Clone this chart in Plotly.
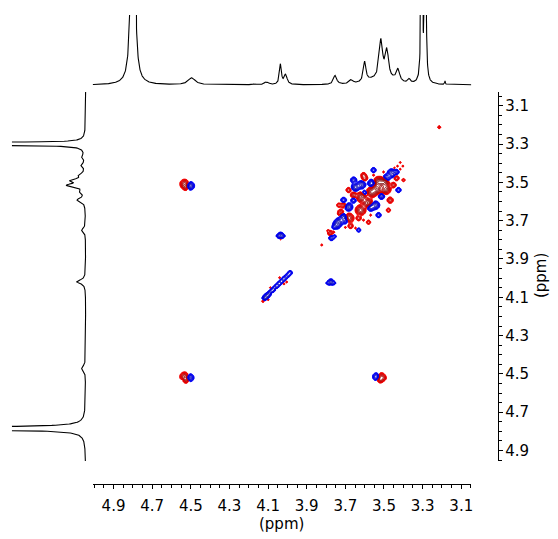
import numpy as np
import plotly.graph_objects as go

W, H = 558, 539

# ---------------- 1D projection along F2 (top) ----------------
# shift (ppm), height (px above baseline), half width (ppm)
top_shift = [4.800, 4.495, 4.170, 4.115, 4.100, 4.036, 4.009, 3.753, 3.670, 3.600,
             3.560, 3.516, 3.485, 3.440, 3.427, 3.370, 3.305, 3.286, 3.184]
top_height = [1330, 7, 1, 2, 2, 20, 10, 9, 4, 20,
              4, 40, 30, 4, 11, 4, 600, 600, 3.5]
top_hw = [0.004, 0.022, 0.010, 0.008, 0.008, 0.006, 0.009, 0.010, 0.012, 0.008,
          0.050, 0.011, 0.011, 0.030, 0.009, 0.008, 0.002, 0.002, 0.002]

# ---------------- 1D projection along F1 (left) ----------------
left_shift = [3.300, 3.290, 3.366, 3.410, 3.462, 3.490, 3.515, 3.549, 3.592,
              3.749, 4.019, 4.470, 4.785]
left_height = [900, 40, 3, 4, 5, 13, 17, 4, 8, 4, 9, 4, 1000]
left_hw = [0.002, 0.002, 0.010, 0.010, 0.010, 0.010, 0.010, 0.010, 0.012,
           0.012, 0.012, 0.015, 0.003]

# ---------------- 2D cross / diagonal peaks ----------------
# F2 shift, F1 shift, signed amplitude (contour-threshold units), width (ppm)
peak_f2 = [
    # H 4.52 / 3.52
    4.532, 4.526, 4.503, 4.538,
    # H 4.52 diagonal
    4.532, 4.524, 4.505, 4.540,
    # H 3.52 / 4.52
    3.538, 3.515, 3.520, 3.500,
    # 4.03 / 3.78
    4.035, 4.050, 4.020, 4.035,
    # 3.78 / 4.03
    3.775, 3.793, 3.757, 3.775,
    # 4.05 diagonal
    4.118, 4.108, 4.096, 4.084, 4.072, 4.060, 4.048, 4.036, 4.024, 4.012, 3.998, 3.986,
    4.126, 4.088, 4.080, 4.058, 4.040, 4.018, 4.004, 4.100,
    # 3.78 diagonal
    3.778, 3.772, 3.755, 3.822, 3.790,
    # 3.45-3.75 diagonal cluster, strong positive
    3.528, 3.500, 3.492, 3.538, 3.564, 3.616, 3.585, 3.621, 3.683,
    # cluster, negative
    3.647, 3.616, 3.563, 3.487, 3.461, 3.569, 3.544, 3.683, 3.709, 3.698, 3.734, 3.745,
    3.600, 3.513, 3.657, 3.435, 3.760, 3.455,
    3.657, 3.709, 3.554, 3.425, 3.528, 3.631,
    # cluster, medium positive
    3.657, 3.709, 3.468, 3.435, 3.600, 3.673, 3.724, 3.631,
    3.606, 3.683, 3.734, 3.451, 3.477, 3.580, 3.399,
    # cluster, weak positive
    3.554, 3.502, 3.647, 3.606, 3.734, 3.569, 3.446, 3.760, 3.700,
    # 3.42 diagonal
    3.416, 3.430, 3.402, 3.416,
    # 3.21 diagonal
    3.214,
]
peak_f1 = [
    3.508, 3.526, 3.518, 3.520,
    4.515, 4.532, 4.520, 4.530,
    4.515, 4.518, 4.532, 4.522,
    3.778, 3.780, 3.780, 3.797,
    4.022, 4.026, 4.026, 4.038,
    4.105, 4.095, 4.083, 4.070, 4.058, 4.046, 4.034, 4.022, 4.010, 3.998, 3.985, 3.972,
    4.120, 4.050, 4.078, 4.058, 3.998, 4.030, 4.020, 4.112,
    3.765, 3.790, 3.782, 3.827, 3.752,
    3.499, 3.499, 3.535, 3.535, 3.551, 3.577, 3.608, 3.645, 3.687,
    3.525, 3.512, 3.505, 3.478, 3.451, 3.629, 3.619, 3.629, 3.681, 3.697, 3.707, 3.723,
    3.556, 3.572, 3.593, 3.446, 3.735, 3.465,
    3.488, 3.593, 3.436, 3.540, 3.671, 3.749,
    3.567, 3.619, 3.593, 3.478, 3.478, 3.728, 3.656, 3.687,
    3.462, 3.540, 3.619, 3.514, 3.645, 3.708, 3.488,
    3.462, 3.446, 3.739, 3.697, 3.666, 3.671, 3.425, 3.760, 3.735,
    3.396, 3.415, 3.415, 3.431,
    3.212,
]
peak_amp = [
    10, 6, -10, 3,
    11, 6, -8, -3,
    -8, 10, 5, 3,
    -9, -3, -3, 2.5,
    -9, -3, -3, 2.5,
    -7, -8, -6, -6, -6, -5, -5, -5, -5, -5, -5, -5,
    3, 2.5, 3, 2.5, 2.5, 2.5, 2.5, 3,
    6, -6, -3, 2.5, 2.5,
    18, 18, 15, 18, 15, 15, 15, 13, 12,
    -10, -9, -9, -9, -9, -9, -9, -9, -9, -8, -9, -8,
    -6, -7, -5, -5, -3, -3,
    -6, -5, -5, -5, -5, -4,
    7, 6, 6, 5, 6, 5, 6, 5,
    5, 5, 4, 6, 4, 4, 3,
    2.5, 2.5, 2.5, 2.5, 2.5, 2.5, 2.5, 2.5, 2.5,
    2.5, 2.5, 2.5, 2.5,
    3.5,
]
peak_width = [
    0.012, 0.009, 0.011, 0.006,
    0.012, 0.009, 0.011, 0.006,
    0.011, 0.012, 0.008, 0.006,
    0.009, 0.005, 0.005, 0.004,
    0.009, 0.005, 0.005, 0.004,
    0.007, 0.008, 0.007, 0.007, 0.007, 0.007, 0.007, 0.007, 0.007, 0.007, 0.007, 0.007,
    0.005, 0.004, 0.004, 0.004, 0.004, 0.004, 0.004, 0.004,
    0.008, 0.008, 0.006, 0.004, 0.004,
    0.013, 0.013, 0.013, 0.013, 0.013, 0.013, 0.013, 0.013, 0.013,
    0.011, 0.011, 0.011, 0.011, 0.011, 0.011, 0.011, 0.011, 0.011, 0.011, 0.011, 0.011,
    0.009, 0.009, 0.009, 0.008, 0.006, 0.006,
    0.009, 0.009, 0.008, 0.008, 0.008, 0.007,
    0.009, 0.009, 0.009, 0.008, 0.009, 0.008, 0.009, 0.008,
    0.008, 0.008, 0.007, 0.008, 0.007, 0.007, 0.006,
    0.004, 0.004, 0.004, 0.004, 0.004, 0.004, 0.004, 0.004, 0.004,
    0.0035, 0.0035, 0.0035, 0.0035,
    0.005,
]

# axis ranges (ppm)
x_range = [5.008, 3.048]
y_range = [4.955, 3.028]

# ---------------- build the traces ----------------
def lorentz_sum(axis, shifts, heights, hws):
    out = np.zeros_like(axis)
    for s, h, g in zip(shifts, heights, hws):
        out += h / (1.0 + ((axis - s) / g) ** 2)
    return out

fx = np.arange(3.048, 5.0085, 0.001)
top_y = lorentz_sum(fx, top_shift, top_height, top_hw)

fy = np.arange(3.028, 4.9555, 0.001)
left_x = lorentz_sum(fy, left_shift, left_height, left_hw)

gx = np.arange(3.15, 4.62, 0.0025)
gy = np.arange(3.15, 4.62, 0.0025)
Z = np.zeros((gy.size, gx.size))
for px_, py_, a, s in zip(peak_f2, peak_f1, peak_amp, peak_width):
    ex = np.exp(-((gx - px_) ** 2) / (2 * s * s))
    ey = np.exp(-((gy - py_) ** 2) / (2 * s * s))
    Z += a * np.outer(ey, ex)

# logarithmic contour spacing
pos = np.round(np.log(np.clip(Z, 1.0, None)), 3)
neg = np.round(np.log(np.clip(-Z, 1.0, None)), 3)

levels = dict(coloring="lines", start=0.15, end=3.2, size=0.25, showlabels=False)

fig = go.Figure()
fig.add_trace(go.Contour(
    x=np.round(gx, 4), y=np.round(gy, 4), z=pos, xaxis="x", yaxis="y",
    autocontour=False, contours=levels, line=dict(width=1),
    colorscale=[[0, "#ff0000"], [0.45, "#d80000"], [1, "#7a0000"]], zmin=0.15, zmax=2.9,
    showscale=False, hoverinfo="skip",
))
fig.add_trace(go.Contour(
    x=np.round(gx, 4), y=np.round(gy, 4), z=neg, xaxis="x", yaxis="y",
    autocontour=False, contours=levels, line=dict(width=1),
    colorscale=[[0, "#0000ff"], [0.45, "#0000e6"], [1, "#00007a"]], zmin=0.15, zmax=2.9,
    showscale=False, hoverinfo="skip",
))
fig.add_trace(go.Scatter(
    x=fx, y=top_y, xaxis="x2", yaxis="y2", mode="lines",
    line=dict(color="black", width=1.1), hoverinfo="skip",
))
fig.add_trace(go.Scatter(
    x=left_x, y=fy, xaxis="x3", yaxis="y3", mode="lines",
    line=dict(color="black", width=1.1), hoverinfo="skip",
))

font = dict(family="DejaVu Sans", size=15, color="black")
tick_common = dict(
    showline=True, linecolor="black", linewidth=1,
    ticks="outside", ticklen=4, tickcolor="black", tickwidth=1,
    tick0=3.1, dtick=0.2, tickformat=".1f",
    minor=dict(dtick=0.05, tick0=3.1, ticks="outside", ticklen=3, tickcolor="black", showgrid=False),
    showgrid=False, zeroline=False, tickfont=font,
)

main_x_dom = [93 / W, 473 / W]
main_y_dom = [1 - 461 / H, 1 - 92 / H]

fig.update_layout(
    width=W, height=H,
    margin=dict(l=0, r=0, t=0, b=0),
    paper_bgcolor="white", plot_bgcolor="white",
    showlegend=False,
    xaxis=dict(domain=main_x_dom, range=x_range, anchor="free",
               position=1 - 484 / H, side="bottom", ticklabelstandoff=4, **tick_common),
    yaxis=dict(domain=main_y_dom, range=y_range, anchor="free",
               position=500 / W, side="right", ticklabelstandoff=-1, **tick_common),
    xaxis2=dict(domain=main_x_dom, range=x_range, anchor="y2", visible=False),
    yaxis2=dict(domain=[1 - 88 / H, 1 - 15 / H], range=[-3, 70], anchor="x2", visible=False),
    xaxis3=dict(domain=[12 / W, 90 / W], range=[74, -4], anchor="y3", visible=False),
    yaxis3=dict(domain=main_y_dom, range=y_range, anchor="x3", visible=False),
    annotations=[
        dict(text="(ppm)", xref="paper", yref="paper", x=283 / W, y=1 - 524 / H,
             showarrow=False, font=font, xanchor="center", yanchor="middle"),
        dict(text="(ppm)", xref="paper", yref="paper", x=543 / W, y=1 - 276 / H,
             showarrow=False, font=font, textangle=-90, xanchor="center", yanchor="middle"),
    ],
)

fig.write_html("out.html")
